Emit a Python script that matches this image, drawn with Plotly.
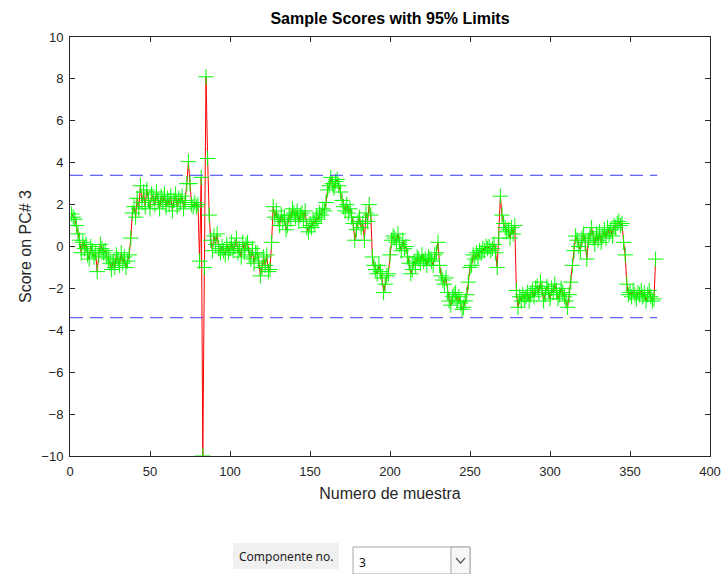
import plotly.graph_objects as go

# PCA scores on component 3 for each sample, with the 95% confidence limits
scores_pc3 = [
    1.55, 1.4, 1.3, 1.0, 0.6, 0.3, -0.3, 0.2, -0.1, 0.1,
    -0.4, -0.6, 0.0, -0.2, -0.5, -0.3, -1.2, -0.4, 0.1, -0.1,
    -0.3, -0.2, -0.5, -0.6, -0.8, -1.1, -0.7, -1.0, -0.4, -0.6,
    -0.9, -0.3, -0.8, -0.5, -1.0, -0.7, -0.4, 0.4, 1.6, 1.9,
    1.4, 2.3, 1.8, 2.9, 2.1, 2.6, 1.9, 2.7, 2.2, 1.8,
    2.5, 2.3, 2.0, 2.6, 2.2, 1.8, 2.4, 2.1, 2.5, 1.9,
    2.3, 2.0, 2.4, 1.7, 2.2, 2.5, 1.9, 2.3, 2.1, 2.4,
    1.8, 2.2, 3.0, 4.05, 3.0, 2.0, 1.9, 2.1, 1.9, 2.0,
    -0.7, 3.3, -10.0, -1.0, 8.1, 4.2, 1.5, 0.3, -0.2, 0.5,
    0.1, 0.6, -0.1, -0.3, 0.0, -0.2, -0.4, 0.1, -0.3, -0.1,
    0.2, -0.2, 0.0, 0.4, -0.3, -0.1, -0.5, 0.2, -0.2, 0.1,
    0.2, -0.4, -0.6, -0.1, -0.8, -0.3, -0.3, -0.7, -1.4, -1.0,
    -0.5, -0.9, -0.4, -1.2, -1.1, 0.2, 1.9, 1.4, 1.7, 1.3,
    1.0, 1.5, 1.2, 1.4, 0.8, 1.0, 1.5, 1.3, 1.8, 1.6,
    1.4, 1.7, 1.2, 1.5, 1.6, 1.3, 1.7, 0.9, 0.7, 1.0,
    0.9, 1.2, 1.1, 1.4, 1.3, 1.6, 1.5, 1.8, 1.7, 2.1,
    2.7, 2.9, 3.3, 3.0, 2.8, 3.1, 3.2, 2.9, 2.6, 2.2,
    1.9, 1.7, 2.0, 1.6, 1.8, 1.4, 1.1, 0.3, 0.8, 1.2,
    1.4, 0.9, 1.1, 0.3, 1.6, 1.2, 2.0, 1.5, -0.5, -0.9,
    -1.1, -1.3, -0.9, -1.2, -1.5, -2.2, -1.8, -1.4, -1.3, -0.4,
    0.3, 0.5, 0.4, 0.2, 0.6, 0.1, -0.2, 0.3, -0.1, 0.0,
    -0.5, -0.8, -1.3, -1.1, -0.7, -0.9, -0.5, -0.6, -0.8, -0.4,
    -0.7, -0.6, -0.9, -0.5, -0.6, -0.7, -0.9, -0.4, -0.3, 0.2,
    -0.9, -1.4, -1.6, -1.8, -1.5, -2.2, -2.6, -2.8, -2.4, -2.3,
    -2.2, -2.6, -2.4, -2.7, -3.0, -2.9, -2.6, -2.3, -1.7, -1.0,
    -0.9, -0.4, -0.6, -0.3, -0.5, -0.2, -0.3, -0.1, -0.2, 0.0,
    -0.1, 0.0, -0.2, -0.1, 0.1, -0.3, -1.0, 0.4, 2.4, 1.5,
    1.1, 0.9, 0.7, 0.8, 0.4, 0.9, 0.6, 1.0, -2.1, -2.9,
    -2.4, -2.6, -2.3, -2.5, -2.4, -2.2, -2.6, -2.3, -2.1, -2.4,
    -2.0, -1.9, -2.2, -1.7, -2.0, -2.6, -2.3, -1.9, -2.1, -2.5,
    -2.0, -2.2, -1.8, -2.1, -2.5, -2.3, -2.0, -2.2, -2.4, -2.6,
    -2.9, -2.3, -1.7, -0.9, -0.2, 0.5, 0.3, 0.0, -0.2, 0.4,
    0.6, 0.2, -0.6, 0.3, 0.5, 0.9, 0.4, 0.1, 0.6, 0.3,
    0.7, 0.2, 0.5, 0.8, 0.4, 0.9, 0.6, 0.8, 0.5, 1.0,
    0.9, 1.1, 1.2, 1.0, 1.1, 0.2, -0.4, -1.8, -2.3, -2.2,
    -2.4, -2.1, -2.3, -2.5, -2.2, -2.3, -2.1, -2.4, -2.2, -2.6,
    -2.3, -2.1, -2.4, -2.6, -2.5, -0.6,
]
sample_numbers = list(range(1, len(scores_pc3) + 1))
limit_95 = 3.4
limit_x = [0, len(scores_pc3) + 1]

x_ticks = [0, 50, 100, 150, 200, 250, 300, 350, 400]
y_ticks = [-10, -8, -6, -4, -2, 0, 2, 4, 6, 8, 10]

W, H = 728, 574
L, R, T, B = 70, 18, 37, 118
AXIS_GRAY = "#262626"
FONT = "Liberation Sans, Arial, sans-serif"


def px(x):
    return (x - L) / (W - L - R)


def py(y):
    return (H - B - y) / (H - T - B)


fig = go.Figure()

fig.add_trace(go.Scatter(
    x=sample_numbers, y=scores_pc3, mode="lines",
    line=dict(color="#ff0000", width=1), hoverinfo="skip", showlegend=False,
))
fig.add_trace(go.Scatter(
    x=sample_numbers, y=scores_pc3, mode="markers",
    marker=dict(symbol="cross-thin", size=11, color="#00ff00",
                line=dict(color="#00ff00", width=1)),
    showlegend=False,
))
for lim in (limit_95, -limit_95):
    fig.add_trace(go.Scatter(
        x=limit_x, y=[lim, lim], mode="lines",
        line=dict(color="#3b3bff", width=1, dash="13px,7px"),
        hoverinfo="skip", showlegend=False,
    ))

axis_common = dict(
    showgrid=False, zeroline=False, showline=True, linecolor=AXIS_GRAY,
    linewidth=1, mirror="ticks", ticks="inside", ticklen=5, automargin=False,
    ticklabelstandoff=3,
    tickcolor=AXIS_GRAY, tickfont=dict(family=FONT, size=13, color=AXIS_GRAY),
)

fig.update_layout(
    width=W, height=H,
    margin=dict(l=L, r=R, t=T, b=B, autoexpand=False),
    paper_bgcolor="white", plot_bgcolor="white",
    title=dict(text="<b>Sample Scores with 95% Limits</b>", x=(L + W - R) / 2 / W,
               xanchor="center", y=1 - 18 / H, yanchor="middle",
               font=dict(family=FONT, size=16, color="#000000")),
    xaxis=dict(range=[0, 400], tickvals=x_ticks,
               title=dict(text="Numero de muestra", standoff=10,
                          font=dict(family=FONT, size=16, color=AXIS_GRAY)),
               **axis_common),
    yaxis=dict(range=[-10, 10], tickvals=y_ticks,
               title=dict(text="Score on PC# 3", standoff=5,
                          font=dict(family=FONT, size=16, color=AXIS_GRAY)),
               **axis_common),
    shapes=[
        # label panel of the component selector
        dict(type="rect", xref="paper", yref="paper",
             x0=px(233), x1=px(339), y0=py(569), y1=py(543),
             fillcolor="#f0f0f0", line=dict(width=0), layer="below"),
        # drop-down box
        dict(type="rect", xref="paper", yref="paper",
             x0=px(353), x1=px(470), y0=py(574), y1=py(547),
             fillcolor="#ffffff", line=dict(color="#a6a6a6", width=1)),
        dict(type="rect", xref="paper", yref="paper",
             x0=px(451), x1=px(470), y0=py(574), y1=py(547),
             fillcolor="#f7f7f7", line=dict(color="#a6a6a6", width=1)),
        # chevron of the drop-down
        dict(type="path", xref="paper", yref="paper",
             path=f"M {px(456)},{py(558)} L {px(460.5)},{py(563)} L {px(465)},{py(558)}",
             line=dict(color="#555555", width=1.2)),
    ],
    annotations=[
        dict(text="Componente no.", xref="paper", yref="paper",
             x=px(286), y=py(556), xanchor="center", yanchor="middle",
             showarrow=False, font=dict(family="Noto Sans, Arial", size=12, color="#222222")),
        dict(text="3", xref="paper", yref="paper",
             x=px(357), y=py(562), xanchor="left", yanchor="middle",
             showarrow=False, font=dict(family="Noto Sans, Arial", size=12, color="#111111")),
    ],
)

fig.write_html("out.html")
